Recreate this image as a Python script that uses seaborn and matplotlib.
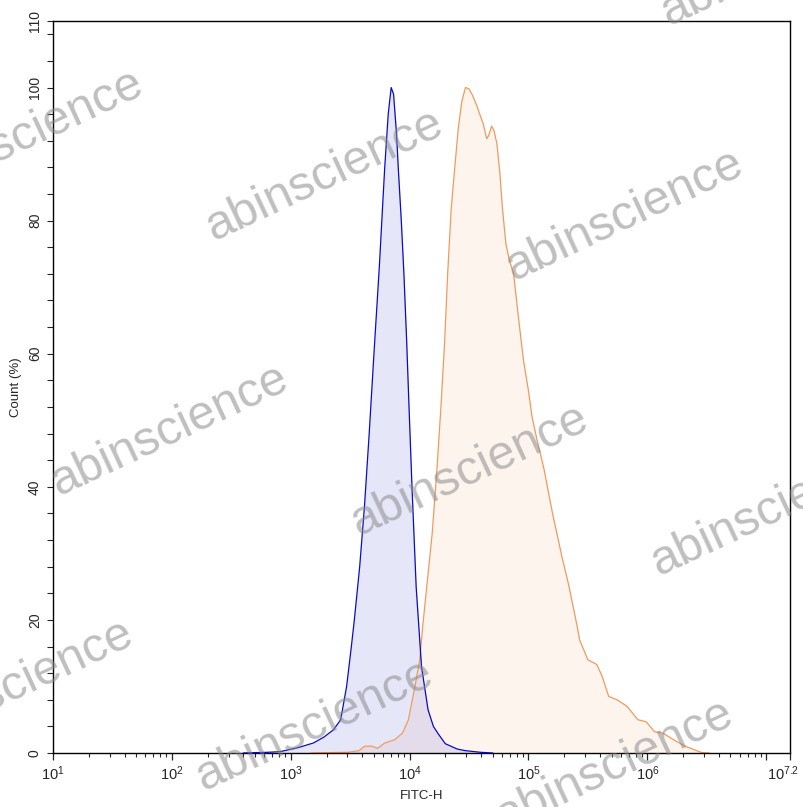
import numpy as np
import pandas as pd
import matplotlib
matplotlib.use("Agg")
import matplotlib.pyplot as plt
import matplotlib.transforms as mtransforms
import seaborn as sns
from matplotlib.ticker import FixedLocator, MultipleLocator

# isotype control (blue) - log10(FITC-H) and Count (%)
iso_log = [2.60, 2.80, 2.91, 3.06, 3.19, 3.28, 3.36, 3.42, 3.47, 3.51, 3.535, 3.58, 3.62,
           3.66, 3.70, 3.745, 3.79, 3.82, 3.845, 3.865, 3.89, 3.905, 3.93, 3.952, 3.975,
           3.995, 4.02, 4.055, 4.10, 4.155, 4.20, 4.24, 4.30, 4.40, 4.47, 4.60, 4.70]
iso_cnt = [0, 0.1, 0.2, 0.8, 1.5, 2.4, 3.5, 5.0, 10.0, 16.0, 20.0, 28.0, 37.0,
           48.0, 60.0, 73.0, 87.8, 96.0, 100.0, 99.0, 93.0, 87.8, 80.0, 72.0, 62.0,
           52.0, 40.0, 25.0, 13.0, 6.5, 4.0, 2.9, 1.4, 0.6, 0.35, 0.1, 0]

# stained sample (orange)
smp_log = [3.17, 3.30, 3.48, 3.575, 3.62, 3.68, 3.73, 3.79, 3.875, 3.94, 3.99, 4.045, 4.085,
           4.11, 4.15, 4.19, 4.23, 4.265, 4.295, 4.32, 4.35, 4.38, 4.41, 4.44, 4.47, 4.50,
           4.53, 4.56, 4.59, 4.62, 4.648, 4.665, 4.69, 4.71, 4.735, 4.76, 4.78, 4.81, 4.84,
           4.875, 4.915, 4.958, 5.0, 5.03, 5.07, 5.13, 5.20, 5.28, 5.34, 5.41, 5.43, 5.50,
           5.575, 5.62, 5.675, 5.745, 5.83, 5.92, 5.99, 6.06, 6.13, 6.22, 6.32, 6.46, 6.52]
smp_cnt = [0, 0.05, 0.1, 0.35, 1.0, 1.05, 0.7, 1.5, 2.0, 3.0, 5.0, 10.0, 14.0,
           19.0, 26.0, 33.0, 42.7, 52.4, 62.0, 72.0, 81.8, 88.0, 94.0, 98.0, 100.0, 99.8,
           98.8, 97.5, 96.0, 94.5, 92.3, 92.8, 94.2, 93.5, 91.5, 87.0, 82.0, 76.5, 74.0,
           72.0, 65.5, 59.0, 54.4, 50.5, 47.2, 42.7, 36.2, 29.6, 25.1, 19.0, 17.0, 14.0,
           13.3, 11.5, 8.5, 8.0, 7.0, 5.0, 4.7, 3.2, 3.0, 2.0, 1.0, 0.05, 0]

x_ticks = [1, 2, 3, 4, 5, 6, 7, 7.2]
x_labels = ['$10^{1}$', '$10^{2}$', '$10^{3}$', '$10^{4}$', '$10^{5}$', '$10^{6}$', '', '$10^{7.2}$']
y_ticks = [0, 20, 40, 60, 80, 100, 110]

iso = pd.DataFrame({'FITC-H': np.power(10.0, iso_log), 'Count': iso_cnt})
smp = pd.DataFrame({'FITC-H': np.power(10.0, smp_log), 'Count': smp_cnt})

sns.set_style("ticks")
plt.rcParams['font.family'] = ['Liberation Sans', 'DejaVu Sans']
plt.rcParams['mathtext.fontset'] = 'custom'
plt.rcParams['mathtext.rm'] = 'Liberation Sans'
plt.rcParams['mathtext.it'] = 'Liberation Sans'

blue = '#0a0ac8'
orange = '#ee9b5e'

fig = plt.figure(figsize=(8.04, 8.07), dpi=100)
ax = fig.add_axes([53 / 804, 1 - 753 / 807, (790 - 53) / 804, (753 - 21) / 807])

ax.fill_between(smp['FITC-H'], smp['Count'], color=orange, alpha=0.1, lw=0)
sns.lineplot(data=smp, x='FITC-H', y='Count', color=orange, lw=0.9, ax=ax)
ax.fill_between(iso['FITC-H'], iso['Count'], color=blue, alpha=0.1, lw=0)
sns.lineplot(data=iso, x='FITC-H', y='Count', color=blue, lw=0.9, ax=ax)

ax.set_xscale('log')
ax.set_xlim(10, 10 ** 7.2)
ax.set_ylim(0, 110)

ax.xaxis.set_major_locator(FixedLocator([10 ** t for t in x_ticks]))
ax.set_xticklabels(x_labels)
minors = [m * 10 ** k for k in range(1, 7) for m in range(2, 10)]
ax.xaxis.set_minor_locator(FixedLocator(minors))
ax.yaxis.set_major_locator(FixedLocator(y_ticks))
ax.yaxis.set_minor_locator(MultipleLocator(4))
ax.set_yticklabels([str(v) for v in y_ticks], rotation=90, va='center')

ax.tick_params(axis='x', which='major', length=5, width=0.9, labelsize=10.5, pad=3)
ax.tick_params(axis='x', which='minor', length=3, width=0.8)
ax.tick_params(axis='y', which='both', length=4, width=0.8, labelsize=10, pad=4)
for s in ax.spines.values():
    s.set_linewidth(1.0)
    s.set_color('black')

# keep the last label (10^7.2) inside the picture
last = ax.get_xticklabels()[-1]
last.set_transform(last.get_transform() +
                   mtransforms.ScaledTranslation(-5 / 72, 0, fig.dpi_scale_trans))

ax.set_xlabel('FITC-H', fontsize=9.5, labelpad=5)
ax.set_ylabel('Count (%)', fontsize=9.5, labelpad=4)

# watermark
wm_pos = [(25, 135), (325, 175), (625, 215), (780, -40), (920, 258), (170, 430),
          (470, 470), (770, 510), (15, 685), (315, 725), (615, 765)]
for px, py in wm_pos:
    fig.text(px / 804, 1 - py / 807, 'abinscience', fontsize=35, color='#8a8a8a',
             alpha=0.55, rotation=25, rotation_mode='anchor', ha='center', va='center')

fig.savefig('out.png', dpi=100)
